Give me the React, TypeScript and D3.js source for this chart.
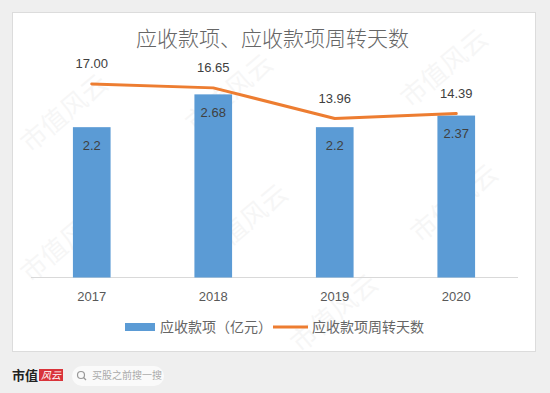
import React from "react";
import * as d3 from "d3";

const years = ["2017", "2018", "2019", "2020"];
const receivables = [2.2, 2.68, 2.2, 2.37];
const receivableLabels = ["2.2", "2.68", "2.2", "2.37"];
const turnoverDays = [17.0, 16.65, 13.96, 14.39];
const turnoverLabels = ["17.00", "16.65", "13.96", "14.39"];
const title = "应收款项、应收款项周转天数";
const legendBar = "应收款项（亿元）";
const legendLine = "应收款项周转天数";
const leftDomain = [0, 3];
const rightDomain = [0, 18];

const W = 550;
const H = 393;
const CJK = "'Noto Sans CJK SC', 'Noto Sans', sans-serif";
const LAT = "'Liberation Sans', Arial, sans-serif";

const watermarks = [
  { x: 235, y: 100 },
  { x: 450, y: 75 },
  { x: 250, y: 230 },
  { x: 460, y: 210 },
  { x: 70, y: 250 },
  { x: 340, y: 320 },
  { x: 70, y: 120 },
];

export default function App() {
  const x = d3.scaleBand<string>().domain(years).range([31, 517]).padding(0);
  const yL = d3.scaleLinear().domain(leftDomain).range([277.5, 72.5]);
  const yR = d3.scaleLinear().domain(rightDomain).range([277.5, 72.5]);
  const bw = x.bandwidth() * 0.31;
  const cx = (y: string) => (x(y) as number) + x.bandwidth() / 2;

  const line = d3
    .line<number>()
    .x((_, i) => cx(years[i]))
    .y((d) => yR(d));

  return (
    <svg
      width={W}
      height={H}
      style={{ position: "absolute", left: 0, top: 0, display: "block" }}
    >
      <rect x={0} y={0} width={W} height={H} fill="#efefef" />
      <rect x={12.5} y={12.5} width={523} height={339} fill="#ffffff" stroke="#dcdcdc" />

      {watermarks.map((w, i) => (
        <text
          key={"w" + i}
          x={w.x}
          y={w.y}
          textAnchor="middle"
          fontFamily={CJK}
          fontSize={26}
          fill="#000"
          opacity={0.03}
          transform={`rotate(-40 ${w.x} ${w.y})`}
        >
          市值风云
        </text>
      ))}

      <text
        x={272.5}
        y={46}
        textAnchor="middle"
        fontFamily={CJK}
        fontSize={21}
        fontWeight={300}
        fill="#666666"
      >
        {title}
      </text>

      <line x1={31} x2={518} y1={277.5} y2={277.5} stroke="#d9d9d9" strokeWidth={1} />

      {years.map((yr, i) => (
        <g key={yr}>
          <rect
            x={cx(yr) - bw / 2}
            y={yL(receivables[i])}
            width={bw}
            height={yL(0) - yL(receivables[i])}
            fill="#5b9bd5"
          />
          <text
            x={cx(yr)}
            y={yL(receivables[i]) + 22.5}
            textAnchor="middle"
            fontFamily={LAT}
            fontSize={13}
            fill="#404040"
          >
            {receivableLabels[i]}
          </text>
          <text
            x={cx(yr)}
            y={300.5}
            textAnchor="middle"
            fontFamily={LAT}
            fontSize={13}
            fill="#595959"
          >
            {yr}
          </text>
        </g>
      ))}

      <path
        d={line(turnoverDays) || ""}
        fill="none"
        stroke="#ed7d31"
        strokeWidth={3}
        strokeLinejoin="round"
        strokeLinecap="round"
      />
      {years.map((yr, i) => (
        <text
          key={"l" + yr}
          x={cx(yr)}
          y={yR(turnoverDays[i]) - 15.5}
          textAnchor="middle"
          fontFamily={LAT}
          fontSize={13}
          fill="#404040"
        >
          {turnoverLabels[i]}
        </text>
      ))}

      <rect x={125} y={323} width={30} height={8} fill="#5b9bd5" />
      <text x={160} y={332} fontFamily={CJK} fontSize={14} fill="#666666">
        {legendBar}
      </text>
      <line x1={273} x2={308} y1={327} y2={327} stroke="#ed7d31" strokeWidth={3} />
      <text x={312} y={332} fontFamily={CJK} fontSize={14} fill="#666666">
        {legendLine}
      </text>

      <text x={12} y={380} fontFamily={CJK} fontSize={13} fontWeight={700} fill="#222">
        市值
      </text>
      <rect x={39} y={369} width={24} height={12} fill="#d9333a" />
      <text
        x={51}
        y={379}
        textAnchor="middle"
        fontFamily={CJK}
        fontSize={10}
        fontStyle="italic"
        fill="#fff"
      >
        风云
      </text>
      <rect x={72} y={366} width={92} height={20} rx={10} fill="#ffffff" opacity={0.7} />
      <circle cx={81} cy={375} r={3.5} fill="none" stroke="#999" strokeWidth={1.2} />
      <line x1={83.5} y1={377.5} x2={86} y2={380} stroke="#999" strokeWidth={1.2} />
      <text x={92} y={379} fontFamily={CJK} fontSize={10} fill="#aaa">
        买股之前搜一搜
      </text>
    </svg>
  );
}
